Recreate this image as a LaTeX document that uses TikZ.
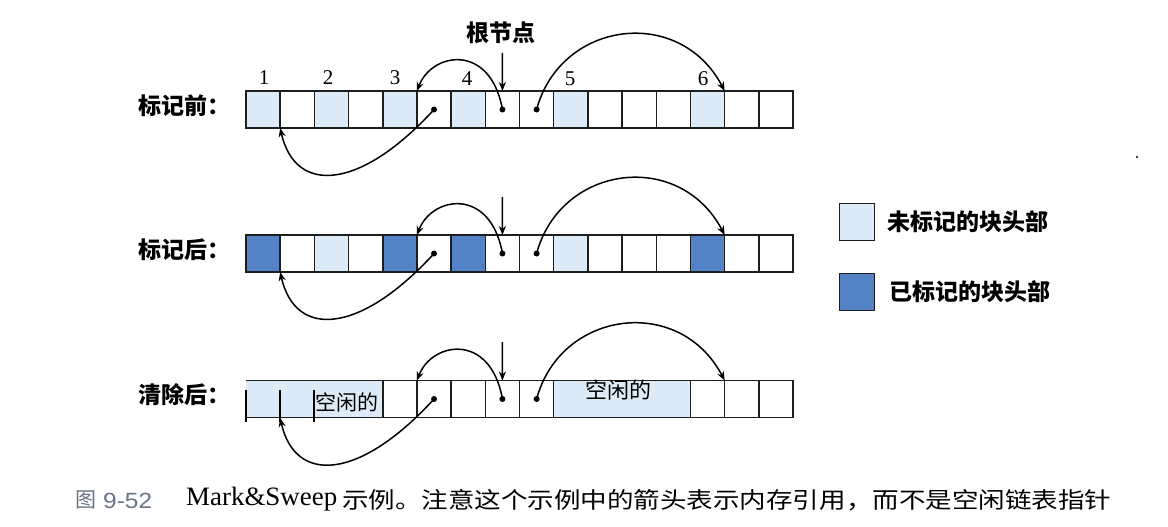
\documentclass[tikz,border=0pt]{standalone}
\usepackage{fontspec}
\usepackage{graphicx}
\setmainfont{Liberation Serif}
\newfontfamily\cjk{Noto Sans CJK SC}
\newfontfamily\capsans{Liberation Sans}
\usetikzlibrary{arrows.meta}
\definecolor{unmk}{RGB}{221,235,248}
\definecolor{mk}{RGB}{84,130,198}
\definecolor{capgray}{RGB}{105,116,134}
\definecolor{lineC}{RGB}{30,30,30}
\tikzset{
  cell/.style={draw=lineC, line width=1.5pt, minimum width=34.19pt, minimum height=37pt, inner sep=0pt, outer sep=0pt},
  unmarked/.style={cell, fill=unmk},
  marked/.style={cell, fill=mk},
  ptr/.style={line width=1.5pt, -{Stealth[length=9pt,width=7pt]}},
  dotc/.style={circle, fill=black, inner sep=0pt, minimum size=6pt},
  lbl/.style={font=\cjk\bfseries\fontsize{23}{27}\selectfont, inner sep=0pt},
  num/.style={font=\fontsize{21}{24}\selectfont, inner sep=0pt},
  bar/.style={line width=2pt, draw=black},
  edge/.style={line width=1.5pt, draw=lineC},
}
\begin{document}
\begin{tikzpicture}[x=1pt, y=-1pt]
\useasboundingbox (0,0) rectangle (1168,527);
% ---------- row 1 ----------
\node[lbl, anchor=east] (lab1) at (231,106) {标记前：};
\foreach \i/\s in {0/unmarked,1/cell,2/unmarked,3/cell,4/unmarked,5/cell,6/unmarked,7/cell,8/cell,9/unmarked,10/cell,11/cell,12/cell,13/unmarked,14/cell,15/cell}
  \node[\s] (a\i) at ({246+34.19*(\i+0.5)},109.5) {};
\node[num] (n1) at (264,78) {1};
\node[num] (n2) at (328,78) {2};
\node[num] (n3) at (395,78) {3};
\node[num] (n4) at (467,79) {4};
\node[num] (n5) at (570,79) {5};
\node[num] (n6) at (703,79) {6};
\node[dotc] (a5d) at (a5) {};
\node[dotc] (a7d) at (a7) {};
\node[dotc] (a8d) at (a8) {};
\node[lbl] (root) at (501,33) {根节点};
\coordinate (rt1) at (502.4,53);
\draw[ptr] (rt1) -- (a7.north);
\draw[ptr] (a7d.center) .. controls +(-12,-67) and +(15,-39) .. (a5.north west);
\draw[ptr] (a8d.center) .. controls +(24,-89) and +(-45,-86) .. (a14.north west);
\draw[ptr] (a5d.center) .. controls +(-74,81) and +(15,67) .. (a1.south west);
% ---------- row 2 ----------
\node[lbl, anchor=east] (lab2) at (231,250) {标记后：};
\foreach \i/\s in {0/marked,1/cell,2/unmarked,3/cell,4/marked,5/cell,6/marked,7/cell,8/cell,9/unmarked,10/cell,11/cell,12/cell,13/marked,14/cell,15/cell}
  \node[\s] (b\i) at ({246+34.19*(\i+0.5)},253.5) {};
\node[dotc] (b5d) at (b5) {};
\node[dotc] (b7d) at (b7) {};
\node[dotc] (b8d) at (b8) {};
\coordinate (rt2) at (502.4,197);
\draw[ptr] (rt2) -- (b7.north);
\draw[ptr] (b7d.center) .. controls +(-12,-67) and +(15,-39) .. (b5.north west);
\draw[ptr] (b8d.center) .. controls +(24,-89) and +(-45,-86) .. (b14.north west);
\draw[ptr] (b5d.center) .. controls +(-74,81) and +(15,67) .. (b1.south west);
% ---------- row 3 ----------
\node[lbl, anchor=east] (lab3) at (231,395) {清除后：};
\node[cell, draw=none, fill=unmk, minimum width=136.76pt] (cfree1) at (314.38,399) {};
\draw[edge] (cfree1.north west) -- (cfree1.north east);
\draw[edge] (cfree1.south west) -- (cfree1.south east);
\coordinate (c0) at (246,390);
\coordinate (c1) at (280.19,390);
\coordinate (c2) at (314.38,390);
\coordinate (c1b) at (280.19,418);
\draw[bar] (c0) -- +(0,32);
\draw[bar] (c1) -- +(0,32);
\draw[bar] (c2) -- +(0,32);
\node[lbl, font=\cjk\fontsize{21}{25}\selectfont] (ftxt1) at (347,402) {空闲的};
\foreach \i in {4,5,6,7,8,13,14,15}
  \node[cell] (c\i) at ({246+34.19*(\i+0.5)},399) {};
\node[cell, fill=unmk, minimum width=136.76pt] (cfree2) at (622.06,399) {};
\node[lbl, font=\cjk\fontsize{22}{26}\selectfont] (ftxt2) at (618.5,390) {空闲的};
\node[dotc] (c5d) at (c5) {};
\node[dotc] (c7d) at (c7) {};
\node[dotc] (c8d) at (c8) {};
\coordinate (rt3) at (502.4,342);
\draw[ptr] (rt3) -- (c7.north);
\draw[ptr] (c7d.center) .. controls +(-12,-67) and +(15,-39) .. (c5.north west);
\draw[ptr] (c8d.center) .. controls +(24,-89) and +(-45,-86) .. (c14.north west);
\draw[ptr] (c5d.center) .. controls +(-74,81) and +(15,67) .. (c1b);
% ---------- legend ----------
\node[cell, line width=1.8pt, fill=unmk, minimum width=35pt, minimum height=37pt] (leg1) at (857,222) {};
\node[lbl, anchor=west] (legt1) at (887,222) {未标记的块头部};
\node[cell, line width=1.8pt, fill=mk, minimum width=35pt, minimum height=37pt] (leg2) at (857,292) {};
\node[lbl, anchor=west] (legt2) at (889,292) {已标记的块头部};
\fill (1137,157) circle (1.2pt);
% ---------- caption ----------
\node[anchor=west, inner sep=0pt, text=capgray, font=\cjk\fontsize{21}{24}\selectfont] (fig) at (75,500) {图};
\node[anchor=west, inner sep=0pt, text=capgray, font=\capsans\fontsize{22}{26}\selectfont] (fnum) at (103,501) {\resizebox{49pt}{\height}{9-52}};
\node[anchor=west, inner sep=0pt, font=\fontsize{26.5}{30}\selectfont] (mark) at (186,499) {\resizebox{151pt}{\height}{Mark\&Sweep}};
\node[anchor=west, inner sep=0pt, font=\cjk\fontsize{22.5}{26}\selectfont] (captxt) at (342,500) {\resizebox{769pt}{\height}{示例。注意这个示例中的箭头表示内存引用，而不是空闲链表指针}};
\end{tikzpicture}
\end{document}
